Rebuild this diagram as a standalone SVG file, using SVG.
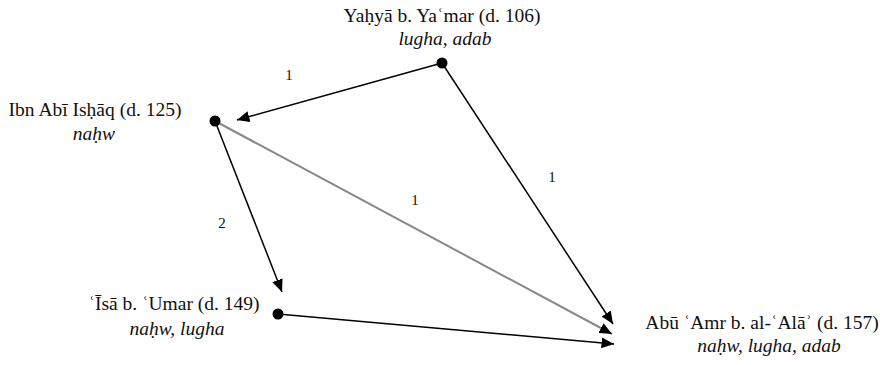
<svg xmlns="http://www.w3.org/2000/svg" width="880" height="365" viewBox="0 0 880 365">
<style>
.t{font-family:"Liberation Serif","DejaVu Serif",serif;font-size:19.5px;fill:#111;text-anchor:middle}
.i{font-style:italic}
.lbl{font-family:"Liberation Serif","DejaVu Serif",serif;font-size:15px;fill:#111;text-anchor:middle}
.e{stroke:#000;stroke-width:1.5;fill:none}
.g{stroke:#888;stroke-width:2;fill:none}
.dot{fill:#000}
</style>
<defs>
<marker id="ah" markerUnits="userSpaceOnUse" markerWidth="13" markerHeight="11" refX="12.5" refY="5.5" orient="auto">
<path d="M0,0 L12.5,5.5 L0,11 Z" fill="#000"/>
</marker>
</defs>
<rect width="880" height="365" fill="#fff"/>
<g id="connectors">
<line class="e" x1="442" y1="63" x2="237" y2="120" marker-end="url(#ah)"/>
<line class="e" x1="442" y1="63" x2="613" y2="324" marker-end="url(#ah)"/>
<line class="e" x1="215" y1="121" x2="282" y2="292" marker-end="url(#ah)"/>
<line class="g" x1="215" y1="121" x2="612" y2="334" marker-end="url(#ah)"/>
<line class="e" x1="278" y1="314" x2="614" y2="344" marker-end="url(#ah)"/>
<text class="lbl" x="289" y="80">1</text>
<text class="lbl" x="552" y="182">1</text>
<text class="lbl" x="222" y="228">2</text>
<text class="lbl" x="415" y="205">1</text>
</g>
<g id="yahya">
<circle class="dot" cx="442" cy="63" r="5.5"/>
<text class="t" x="442" y="22">Yaḥyā b. Yaʿmar (d. 106)</text>
<text class="t i" x="445" y="45">lugha, adab</text>
</g>
<g id="ibn-abi-ishaq">
<circle class="dot" cx="215" cy="121" r="5.5"/>
<text class="t" x="95" y="116">Ibn Abī Isḥāq (d. 125)</text>
<text class="t i" x="94" y="140">naḥw</text>
</g>
<g id="isa">
<circle class="dot" cx="278" cy="314" r="5.5"/>
<text class="t" x="174" y="310">ʿĪsā b. ʿUmar (d. 149)</text>
<text class="t i" x="177" y="335">naḥw, lugha</text>
</g>
<g id="abu-amr">
<text class="t" x="762" y="329">Abū ʿAmr b. al-ʿAlāʾ (d. 157)</text>
<text class="t i" x="769" y="352">naḥw, lugha, adab</text>
</g>
</svg>
